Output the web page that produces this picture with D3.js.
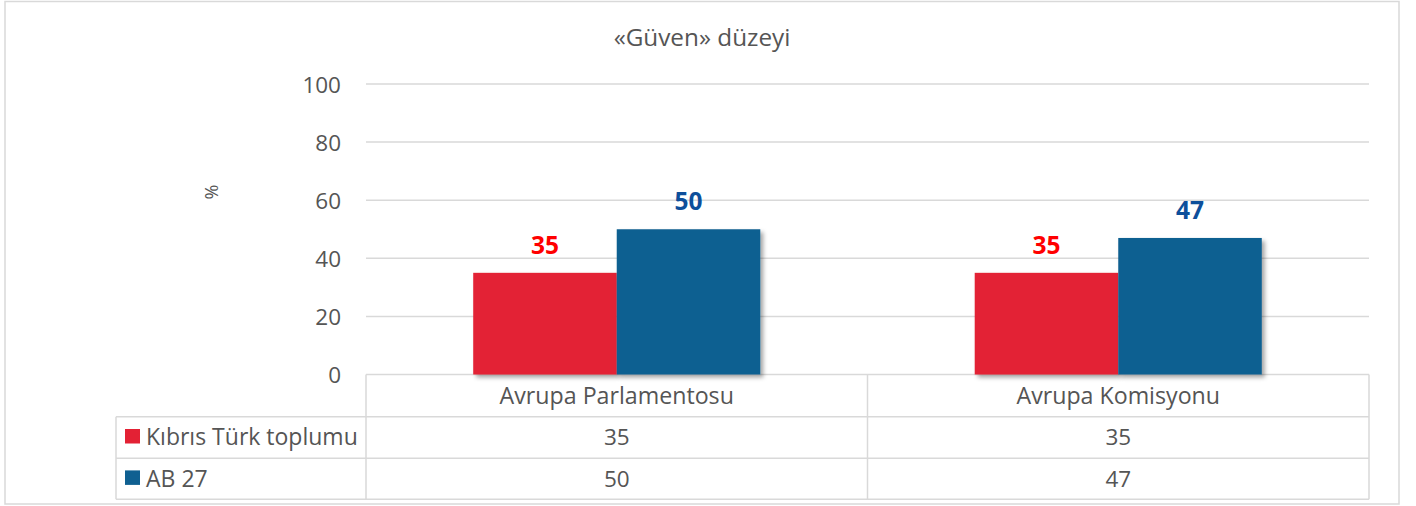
<!DOCTYPE html>
<html>
<head>
<meta charset="utf-8">
<script src="https://cdn.jsdelivr.net/npm/d3@7"></script>
<style>
  html, body { margin: 0; padding: 0; background: #fff; }
  svg { display: block; }
  text { font-family: "Open Sans", "Noto Sans", sans-serif; fill: #555555; }
</style>
</head>
<body>
<svg id="chart" width="1416" height="506"></svg>
<script>
const title = "«Güven» düzeyi";
const yAxisTitle = "%";
const categories = ["Avrupa Parlamentosu", "Avrupa Komisyonu"];
const seriesNames = ["Kıbrıs Türk toplumu", "AB 27"];
const seriesColors = ["#E32134", "#0F6091"];
const labelColors = ["#FF0000", "#0D4F9B"];
const kibrisValues = [35, 35];
const ab27Values = [50, 47];
const yTicks = [0, 20, 40, 60, 80, 100];

const seriesValues = [kibrisValues, ab27Values];

const svg = d3.select("#chart");

// layout
const plotLeft = 366, plotRight = 1369;
const plotTop = 84, plotBottom = 374.5;
const tableLeft = 116;
const rowLines = [374.5, 416.7, 458.3, 499.3];
const gridColor = "#D9D9D9";

// outer border
svg.append("rect")
  .attr("x", 5).attr("y", 1.5)
  .attr("width", 1394).attr("height", 502.5)
  .attr("fill", "#fff")
  .attr("stroke", gridColor).attr("stroke-width", 1.5);

// shadow filter
const defs = svg.append("defs");
const f = defs.append("filter").attr("id", "shadow")
  .attr("x", "-10%").attr("y", "-10%").attr("width", "130%").attr("height", "130%");
f.append("feDropShadow").attr("dx", 3).attr("dy", 3).attr("stdDeviation", 2.2)
  .attr("flood-color", "#000").attr("flood-opacity", 0.35);

const y = d3.scaleLinear().domain([0, 100]).range([plotBottom, plotTop]);
const x0 = d3.scaleBand().domain(categories).range([plotLeft, plotRight]).padding(0);
const x1 = d3.scaleBand().domain(seriesNames).range([0, x0.bandwidth()])
  .paddingInner(0).paddingOuter(0.747);

// title
svg.append("text")
  .attr("x", 702).attr("y", 46)
  .attr("text-anchor", "middle")
  .style("font-size", "24.3px")
  .text(title);

// y axis title
svg.append("text")
  .attr("transform", "translate(212,192) rotate(-90)")
  .attr("text-anchor", "middle")
  .attr("dy", "0.35em")
  .style("font-size", "18px")
  .text(yAxisTitle);

// gridlines
svg.append("g").selectAll("line")
  .data(yTicks.filter(d => d !== 0))
  .join("line")
  .attr("x1", plotLeft).attr("x2", plotRight)
  .attr("y1", d => y(d)).attr("y2", d => y(d))
  .attr("stroke", gridColor).attr("stroke-width", 1.5);

// y axis labels
const yAxis = d3.axisLeft(y).tickValues(yTicks).tickSize(0).tickPadding(0);
const gy = svg.append("g").attr("transform", "translate(341,0)").call(yAxis);
gy.select(".domain").remove();
gy.selectAll("text")
  .attr("x", 0).attr("dy", "0.36em")
  .style("font-size", "22.5px")
  .style("font-family", "'Open Sans', sans-serif")
  .attr("fill", "#555555");

// table lines
const tbl = svg.append("g").attr("stroke", gridColor).attr("stroke-width", 1.5);
rowLines.forEach((ry, i) => {
  tbl.append("line")
    .attr("x1", i === 0 ? plotLeft : tableLeft).attr("x2", plotRight)
    .attr("y1", ry).attr("y2", ry);
});
tbl.append("line").attr("x1", tableLeft).attr("x2", tableLeft)
  .attr("y1", rowLines[1]).attr("y2", rowLines[3]);
const colEdges = [plotLeft, ...categories.map(c => x0(c) + x0.bandwidth())];
colEdges.forEach(cx => {
  tbl.append("line").attr("x1", cx).attr("x2", cx)
    .attr("y1", rowLines[0]).attr("y2", rowLines[3]);
});

// bars
const groups = svg.append("g").selectAll("g")
  .data(categories)
  .join("g")
  .attr("transform", d => `translate(${x0(d)},0)`);

groups.selectAll("rect")
  .data((c, ci) => seriesNames.map((s, si) => ({ s, si, v: seriesValues[si][ci] })))
  .join("rect")
  .attr("x", d => x1(d.s))
  .attr("y", d => y(d.v))
  .attr("width", x1.bandwidth())
  .attr("height", d => y(0) - y(d.v))
  .attr("fill", d => seriesColors[d.si])
  .attr("filter", "url(#shadow)");

// data labels
groups.selectAll("text.lbl")
  .data((c, ci) => seriesNames.map((s, si) => ({ s, si, v: seriesValues[si][ci] })))
  .join("text")
  .attr("class", "lbl")
  .attr("x", d => x1(d.s) + x1.bandwidth() / 2)
  .attr("y", d => y(d.v) - 19)
  .attr("text-anchor", "middle")
  .style("font-size", "24.5px")
  .style("font-weight", "bold")
  .style("fill", d => labelColors[d.si])
  .text(d => d.v);

// category labels (header row)
svg.append("g").selectAll("text")
  .data(categories)
  .join("text")
  .attr("x", d => x0(d) + x0.bandwidth() / 2)
  .attr("y", 404.3)
  .attr("text-anchor", "middle")
  .style("font-size", "23.2px")
  .text(d => d);

// table rows
const rowBaselines = [445.3, 486.7];
seriesNames.forEach((s, si) => {
  svg.append("rect")
    .attr("x", 125).attr("y", rowBaselines[si] - 16.3)
    .attr("width", 15).attr("height", 14.5)
    .attr("fill", seriesColors[si]);
  svg.append("text")
    .attr("x", 146).attr("y", rowBaselines[si])
    .style("font-size", "23px")
    .text(s);
  svg.append("g").selectAll("text")
    .data(categories)
    .join("text")
    .attr("x", d => x0(d) + x0.bandwidth() / 2)
    .attr("y", rowBaselines[si])
    .attr("text-anchor", "middle")
    .style("font-size", "22.5px")
    .text((d, ci) => seriesValues[si][ci]);
});
</script>
</body>
</html>
